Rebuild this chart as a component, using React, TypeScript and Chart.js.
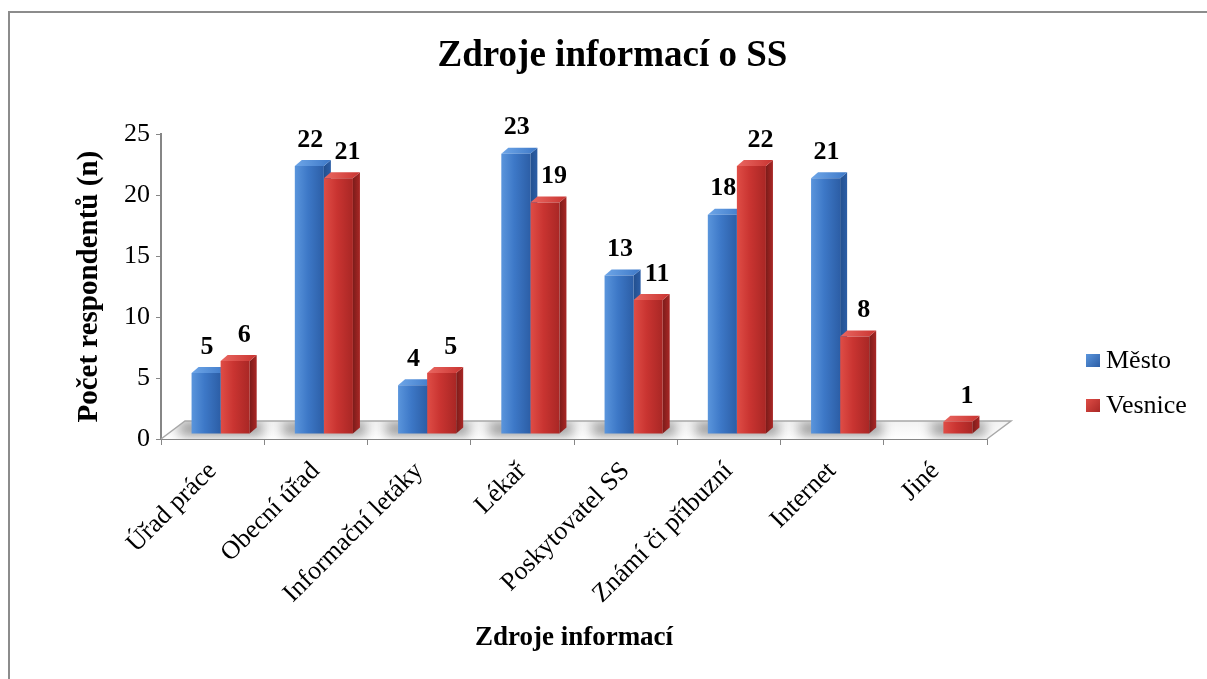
import React, { useEffect, useRef } from 'react';
import { Chart, registerables } from 'chart.js';

Chart.register(...registerables);

// ---------- data ----------
const TITLE = 'Zdroje informací o SS';
const X_TITLE = 'Zdroje informací';
const Y_TITLE = 'Počet respondentů (n)';
const CATEGORIES = [
  'Úřad práce',
  'Obecní úřad',
  'Informační letáky',
  'Lékař',
  'Poskytovatel SS',
  'Známí či příbuzní',
  'Internet',
  'Jiné',
];
const SERIES_NAMES = ['Město', 'Vesnice'];
const MESTO = [5, 22, 4, 23, 13, 18, 21, 0];
const VESNICE = [6, 21, 5, 19, 11, 22, 8, 1];
const Y_MIN = 0;
const Y_MAX = 25;
const Y_STEP = 5;

// ---------- styles ----------
const FONT = "'Times New Roman', 'Liberation Serif', 'DejaVu Serif', serif";
const CAT_PCT = 0.563;
const SHIFT_X = 8;
const SHIFT_Y = -5;
const DX = 7;
const DY = -6;
const FLOOR_DX = 24;
const FLOOR_DY = -18;
const AXIS_COLOR = '#868686';

const PALETTE = [
  { light: '#5a95dc', mid: '#3d78c7', dark: '#2c5ea6', top: '#6ea6e8', side: '#23508f' },
  { light: '#df4d46', mid: '#c93431', dark: '#a92725', top: '#ea6761', side: '#7c1c1a' },
];

function frontFill(si: number) {
  return (c: any) => {
    const p = PALETTE[si];
    const chart = c.chart;
    const xs = chart.scales && chart.scales.x;
    if (c.type !== 'data' || !xs || !chart.chartArea) return p.mid;
    const center = xs.getPixelForValue(c.dataIndex);
    const w = (((xs.right - xs.left) / CATEGORIES.length) * CAT_PCT) / 2;
    const left = si === 0 ? center - w : center;
    const g = chart.ctx.createLinearGradient(left, 0, left + w, 0);
    g.addColorStop(0, p.light);
    g.addColorStop(0.45, p.mid);
    g.addColorStop(1, p.dark);
    return g;
  };
}

const LABEL_DX = [1, 9];

const bar3d = {
  id: 'bar3d',
  afterLayout(chart: any) {
    const tb = chart.titleBlock;
    if (tb) {
      tb.left += 83;
      tb.right += 83;
    }
  },
  beforeDraw(chart: any) {
    const ctx = chart.ctx;
    ctx.save();
    ctx.fillStyle = '#8c8c8c';
    ctx.fillRect(8, 11, chart.width - 8, 2);
    ctx.fillRect(8, 11, 2, chart.height - 11);
    ctx.restore();
  },
  beforeDatasetsDraw(chart: any) {
    const ctx = chart.ctx;
    const xs = chart.scales.x;
    const yb = chart.chartArea.bottom;
    const l = xs.left;
    const r = xs.right;
    // floor
    ctx.save();
    ctx.beginPath();
    ctx.moveTo(l, yb);
    ctx.lineTo(r, yb);
    ctx.lineTo(r + FLOOR_DX, yb + FLOOR_DY);
    ctx.lineTo(l + FLOOR_DX, yb + FLOOR_DY);
    ctx.closePath();
    const fg = ctx.createLinearGradient(0, yb + FLOOR_DY, 0, yb);
    fg.addColorStop(0, '#f2f2f2');
    fg.addColorStop(1, '#ffffff');
    ctx.fillStyle = fg;
    ctx.fill();
    ctx.clip();
    // soft shadows under bars
    ctx.filter = 'blur(6px)';
    ctx.fillStyle = 'rgba(0,0,0,0.38)';
    const m0 = chart.getDatasetMeta(0).data;
    const m1 = chart.getDatasetMeta(1).data;
    for (let i = 0; i < CATEGORIES.length; i++) {
      const a = m0[i];
      const b = m1[i];
      const hasA = MESTO[i] > 0;
      const left = (hasA ? a.x - a.width / 2 : b.x - b.width / 2) + SHIFT_X;
      const right = b.x + b.width / 2 + SHIFT_X + DX;
      ctx.fillRect(left - 12, yb + SHIFT_Y - 12, right - left + 18, 14);
    }
    ctx.filter = 'none';
    ctx.restore();
    ctx.save();
    ctx.strokeStyle = '#a8a8a8';
    ctx.lineWidth = 1.5;
    ctx.beginPath();
    ctx.moveTo(l, yb);
    ctx.lineTo(l + FLOOR_DX, yb + FLOOR_DY);
    ctx.lineTo(r + FLOOR_DX, yb + FLOOR_DY);
    ctx.lineTo(r, yb);
    ctx.stroke();
    ctx.restore();

    // side + top faces
    ctx.save();
    ctx.translate(SHIFT_X, SHIFT_Y);
    chart.data.datasets.forEach((ds: any, di: number) => {
      const meta = chart.getDatasetMeta(di);
      const p = PALETTE[di];
      meta.data.forEach((el: any, i: number) => {
        if (!ds.data[i]) return;
        const x0 = el.x - el.width / 2;
        const x1 = el.x + el.width / 2;
        const y = el.y;
        const base = el.base;
        const sg = ctx.createLinearGradient(x1, 0, x1 + DX, 0);
        sg.addColorStop(0, p.side);
        sg.addColorStop(1, p.dark);
        ctx.fillStyle = sg;
        ctx.beginPath();
        ctx.moveTo(x1, y);
        ctx.lineTo(x1 + DX, y + DY);
        ctx.lineTo(x1 + DX, base + DY);
        ctx.lineTo(x1, base);
        ctx.closePath();
        ctx.fill();
        const tg = ctx.createLinearGradient(x0, 0, x1 + DX, 0);
        tg.addColorStop(0, p.top);
        tg.addColorStop(1, p.mid);
        ctx.fillStyle = tg;
        ctx.beginPath();
        ctx.moveTo(x0, y);
        ctx.lineTo(x0 + DX, y + DY);
        ctx.lineTo(x1 + DX, y + DY);
        ctx.lineTo(x1, y);
        ctx.closePath();
        ctx.fill();
      });
    });
  },
  afterDatasetsDraw(chart: any) {
    const ctx = chart.ctx;
    ctx.restore();
    // value labels
    ctx.save();
    ctx.fillStyle = '#000';
    ctx.font = `bold 26px ${FONT}`;
    ctx.textAlign = 'center';
    ctx.textBaseline = 'middle';
    chart.data.datasets.forEach((ds: any, di: number) => {
      const meta = chart.getDatasetMeta(di);
      meta.data.forEach((el: any, i: number) => {
        const v = ds.data[i];
        if (!v) return;
        ctx.fillText(String(v), el.x + SHIFT_X + LABEL_DX[di], el.y + SHIFT_Y - 26);
      });
    });
    ctx.restore();
  },
  afterDraw(chart: any) {
    const ctx = chart.ctx;
    ctx.save();
    const items = [
      { y: 361, p: PALETTE[0], text: SERIES_NAMES[0] },
      { y: 406, p: PALETTE[1], text: SERIES_NAMES[1] },
    ];
    items.forEach((it) => {
      const bx = 1086;
      const by = it.y - 7;
      const g = ctx.createLinearGradient(bx, by, bx + 14, by + 13);
      g.addColorStop(0, it.p.light);
      g.addColorStop(1, it.p.dark);
      ctx.fillStyle = g;
      ctx.fillRect(bx, by, 14, 13);
      ctx.fillStyle = '#000';
      ctx.font = `26px ${FONT}`;
      ctx.textAlign = 'left';
      ctx.textBaseline = 'middle';
      ctx.fillText(it.text, 1106, it.y);
    });
    ctx.restore();
  },
};

export default function App() {
  const ref = useRef<HTMLCanvasElement | null>(null);

  useEffect(() => {
    if (!ref.current) return;
    const chart = new Chart(ref.current, {
      type: 'bar',
      data: {
        labels: CATEGORIES,
        datasets: [
          {
            label: SERIES_NAMES[0],
            data: MESTO,
            backgroundColor: frontFill(0) as any,
            borderWidth: 0,
            categoryPercentage: CAT_PCT,
            barPercentage: 1,
            clip: false as any,
          },
          {
            label: SERIES_NAMES[1],
            data: VESNICE,
            backgroundColor: frontFill(1) as any,
            borderWidth: 0,
            categoryPercentage: CAT_PCT,
            barPercentage: 1,
            clip: false as any,
          },
        ],
      },
      options: {
        responsive: false,
        animation: false,
        layout: { padding: { left: 72, right: 220, top: 0, bottom: 0 } },
        plugins: {
          legend: { display: false },
          tooltip: { enabled: false },
          title: {
            display: true,
            text: TITLE,
            color: '#000',
            font: { family: FONT, size: 37, weight: 'bold' },
            padding: { top: 34, bottom: 56 },
          },
        },
        scales: {
          x: {
            grid: {
              display: true,
              drawOnChartArea: false,
              drawTicks: true,
              tickLength: 6,
              color: AXIS_COLOR,
              offset: true,
            },
            border: { display: true, color: AXIS_COLOR, width: 2 },
            ticks: {
              color: '#000',
              font: { family: FONT, size: 26 },
              minRotation: 45,
              maxRotation: 45,
              autoSkip: false,
              padding: 11,
            },
            title: {
              display: true,
              text: X_TITLE,
              color: '#000',
              font: { family: FONT, size: 27, weight: 'bold' },
              padding: { top: 0, bottom: 25 },
            },
            afterFit: (s: any) => {
              s.height = 240;
            },
          },
          y: {
            min: Y_MIN,
            max: Y_MAX,
            grid: {
              display: true,
              drawOnChartArea: false,
              drawTicks: true,
              tickLength: 5,
              color: AXIS_COLOR,
            },
            border: { display: true, color: AXIS_COLOR, width: 2 },
            ticks: {
              stepSize: Y_STEP,
              color: '#000',
              font: { family: FONT, size: 26 },
              padding: 6,
            },
            title: {
              display: true,
              text: Y_TITLE,
              color: '#000',
              font: { family: FONT, size: 29, weight: 'bold' },
              padding: { top: 0, bottom: 0 },
            },
            afterFit: (s: any) => {
              s.width = 89;
            },
          },
        },
      },
      plugins: [bar3d as any],
    });
    return () => chart.destroy();
  }, []);

  return (
    <div style={{ position: 'absolute', left: 0, top: 0, width: 1207, height: 679, background: '#fff' }}>
      <canvas ref={ref} width={1207} height={679} style={{ display: 'block', width: 1207, height: 679 }} />
    </div>
  );
}
